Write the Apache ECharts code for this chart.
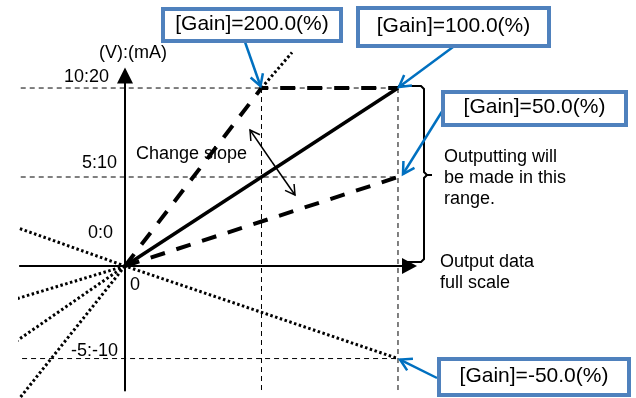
<!DOCTYPE html>
<html><head><meta charset="utf-8">
<script src="https://cdn.jsdelivr.net/npm/echarts@6/dist/echarts.min.js"></script>
<style>html,body{margin:0;padding:0;background:#fff}#c{width:636px;height:398px}</style>
</head><body><div id="c"></div>
<script>
// x: % of output data full scale, y: output (V)
const gain100 = [[0,0],[100,10]];
const gain200 = [[0,0],[50,10],[100,10]];
const gain50 = [[0,0],[100,5]];
const gainMinus50 = [[-38.5,2.1],[0,0],[100,-5.2]];
const ext200 = [[50,10],[61.2,12]];
const extLeft50 = [[0,0],[-41,-1.9]];
const extLeft100 = [[0,0],[-39.6,-4.2]];
const extLeft200 = [[0,0],[-39.5,-7.6]];
const refLevels = [10, 5, -5.2];
const refLevelStart = [-38.2, -38.2, -41];
const refX = [50, 100];
const refXBottom = -7.1;
const yTickLabels = ['10:20', '5:10', '0:0', '-5:-10'];
const gainLabels = ['[Gain]=200.0(%)', '[Gain]=100.0(%)', '[Gain]=50.0(%)', '[Gain]=-50.0(%)'];

const FONT = '"Liberation Sans", Arial, sans-serif';
const chart = echarts.init(document.getElementById('c'), null, {renderer: 'canvas'});

const base = {type: 'line', symbol: 'none', showSymbol: false, clip: false, silent: true, animation: false};
const series = [];
refLevels.forEach((lv, i) => series.push(Object.assign({}, base, {
  data: [[refLevelStart[i], lv], [100, lv]], z: 1,
  lineStyle: {color: '#000', width: 1, type: [5, 4]}
})));
refX.forEach(x => series.push(Object.assign({}, base, {
  data: [[x, 10], [x, refXBottom]], z: 1,
  lineStyle: {color: '#000', width: 1, type: [5, 4]}
})));
const dotted = {color: '#000', width: 3, type: [2.5, 2.5]};
[gainMinus50, ext200, extLeft50, extLeft100, extLeft200].forEach(d => series.push(Object.assign({}, base, {
  data: d, z: 3, lineStyle: dotted
})));
series.push(Object.assign({}, base, {data: gain200, z: 4, lineStyle: {color: '#000', width: 4, type: [15, 12]}}));
series.push(Object.assign({}, base, {data: gain50, z: 4, lineStyle: {color: '#000', width: 4, type: [15, 12]}}));
series.push(Object.assign({}, base, {data: gain100, z: 5, lineStyle: {color: '#000', width: 3.5}}));

const axisCommon = {
  type: 'value',
  axisTick: {show: false}, axisLabel: {show: false}, splitLine: {show: false},
};
chart.setOption({
  animation: false,
  grid: {left: 19.9, right: 223, top: 72, bottom: 7.4},
  xAxis: Object.assign({}, axisCommon, {min: -38.5, max: 105.5,
    axisLine: {show: true, onZero: true, symbol: ['none', 'triangle'], symbolSize: [16, 15], symbolOffset: [0, -3.5],
      lineStyle: {color: '#000', width: 2}}}),
  yAxis: Object.assign({}, axisCommon, {min: -7, max: 10.9,
    axisLine: {show: true, onZero: true, symbol: ['none', 'triangle'], symbolSize: [16, 16], symbolOffset: [0, -3.5],
      lineStyle: {color: '#000', width: 2}}}),
  series: series
});

const P = (x, y) => chart.convertToPixel({gridIndex: 0}, [x, y]);
function arrowHead(tip, from, len, color, width) {
  const dx = tip[0] - from[0], dy = tip[1] - from[1];
  const L = Math.hypot(dx, dy), ux = dx / L, uy = dy / L;
  const a = Math.PI / 6;
  const p1 = [tip[0] - len * (ux * Math.cos(a) - uy * Math.sin(a)), tip[1] - len * (uy * Math.cos(a) + ux * Math.sin(a))];
  const p2 = [tip[0] - len * (ux * Math.cos(a) + uy * Math.sin(a)), tip[1] - len * (uy * Math.cos(a) - ux * Math.sin(a))];
  return {type: 'polyline', shape: {points: [p1, tip, p2]}, style: {stroke: color, lineWidth: width, fill: null}, z: 20};
}
function arrow(from, tip, color, width, head) {
  return [
    {type: 'line', shape: {x1: from[0], y1: from[1], x2: tip[0], y2: tip[1]}, style: {stroke: color, lineWidth: width}, z: 20},
    arrowHead(tip, from, head, color, width)
  ];
}
function txt(s, x, y, align, size) {
  return {type: 'text', z: 30, style: {text: s, x: x, y: y, font: (size || 18) + 'px ' + FONT, fill: '#000',
    textAlign: align || 'left', textVerticalAlign: 'middle'}};
}
function box(x, y, w, h, label) {
  return [
    {type: 'rect', shape: {x: x, y: y, width: w, height: h}, style: {fill: '#fff', stroke: '#4F81BD', lineWidth: 4}, z: 25},
    txt(label, x + w / 2, y + h / 2 - 1, 'center', 21)
  ];
}
const BLUE = '#0070C0';
const p200 = P(50, 10), p100 = P(100, 10), p50 = P(100, 5), pm50 = P(100, -5.2);
const bracketStyle = {stroke: '#000', lineWidth: 2, fill: null};
const els = [].concat(
  box(163, 9, 178, 32, gainLabels[0]),
  box(358, 8, 191, 38, gainLabels[1]),
  box(443, 92, 183, 33, gainLabels[2]),
  box(439, 359, 190, 36, gainLabels[3]),
  arrow([245, 42], [p200[0] - 1, p200[1] - 2], BLUE, 2.5, 13),
  arrow([453, 47], [p100[0] + 1, p100[1] - 1], BLUE, 2.5, 13),
  arrow([443, 110], [p50[0] + 5, p50[1] - 3], BLUE, 2.5, 13),
  arrow([437, 378], [pm50[0] + 2, pm50[1] + 1], BLUE, 2.5, 13),
  arrow([272, 162], [250, 130], '#000', 1.5, 11),
  arrow([272, 162], [295, 195], '#000', 1.5, 11),
  [
    {type: 'polyline', z: 15, shape: {points: [[398, 86], [421, 86], [424, 89], [424, 172], [427, 175], [432, 175]]}, style: bracketStyle},
    {type: 'polyline', z: 15, shape: {points: [[427, 175], [424, 178], [424, 259], [421, 262], [405, 262]]}, style: bracketStyle}
  ],
  [
    txt('(V):(mA)', 99, 53),
    txt(yTickLabels[0], 109, 77, 'right'),
    txt(yTickLabels[1], 117, 163, 'right'),
    txt(yTickLabels[2], 113, 233, 'right'),
    txt(yTickLabels[3], 118, 351, 'right'),
    txt('0', 130, 285),
    txt('Change slope', 136, 154),
    txt('Outputting will', 444, 157),
    txt('be made in this', 444, 178),
    txt('range.', 444, 199),
    txt('Output data', 440, 262),
    txt('full scale', 440, 283)
  ]
);
chart.setOption({graphic: {elements: els}});
</script></body></html>
